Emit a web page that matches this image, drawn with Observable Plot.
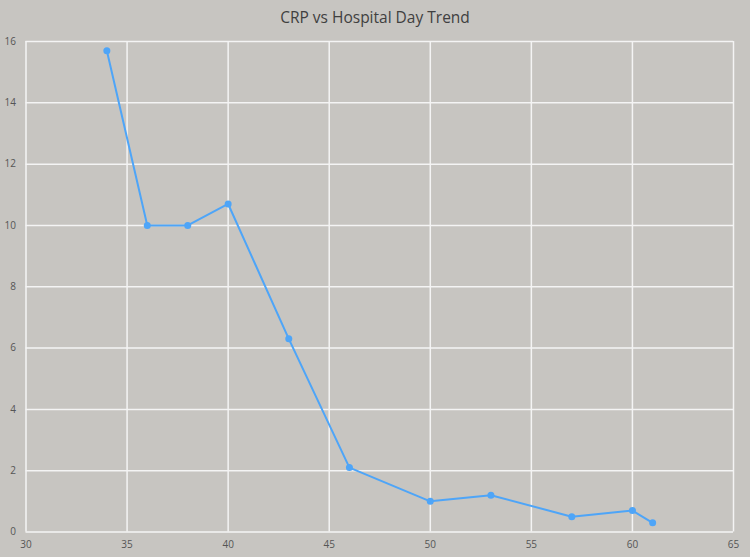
<!DOCTYPE html>
<html>
<head>
<meta charset="utf-8">
<script src="https://cdn.jsdelivr.net/npm/d3@7"></script>
<script src="https://cdn.jsdelivr.net/npm/@observablehq/plot@0.6"></script>
<style>
  html, body { margin: 0; padding: 0; background: #c7c5c1; }
  #wrap { width: 750px; height: 557px; background: #c7c5c1; overflow: hidden; }
  #title { height: 30px; line-height: 35px; text-align: center; font-family: "Open Sans", sans-serif; font-size: 15.5px; color: #404040; }
  svg { display: block; }
</style>
</head>
<body>
<div id="wrap">
  <div id="title">CRP vs Hospital Day Trend</div>
  <div id="chart"></div>
</div>
<script>
const days = [34, 36, 38, 40, 43, 46, 50, 53, 57, 60, 61];
const crp = [15.7, 10.0, 10.0, 10.7, 6.3, 2.1, 1.0, 1.2, 0.5, 0.7, 0.3];
const xTicks = [30, 35, 40, 45, 50, 55, 60, 65];
const yTicks = [0, 2, 4, 6, 8, 10, 12, 14, 16];

const data = days.map((d, i) => ({day: d, crp: crp[i]}));
const color = "#4ea5f8";

const chart = Plot.plot({
  width: 750,
  height: 527,
  marginLeft: 25.5,
  marginRight: 17,
  marginTop: 11,
  marginBottom: 25.5,
  style: {background: "#c7c5c1", fontFamily: "'Open Sans', sans-serif", fontSize: "10px", color: "#555"},
  x: {domain: [30, 65], ticks: xTicks, tickSize: 0, tickPadding: 9, label: null},
  y: {domain: [0, 16], ticks: yTicks, tickSize: 0, tickPadding: 10, label: null},
  marks: [
    Plot.ruleX(xTicks, {stroke: "#f4f4f4", strokeWidth: 1.5}),
    Plot.ruleY(yTicks, {stroke: "#f4f4f4", strokeWidth: 1.5}),
    Plot.line(data, {x: "day", y: "crp", stroke: color, strokeWidth: 2}),
    Plot.dot(data, {x: "day", y: "crp", fill: color, r: 3.5})
  ]
});
document.getElementById("chart").appendChild(chart);
</script>
</body>
</html>
